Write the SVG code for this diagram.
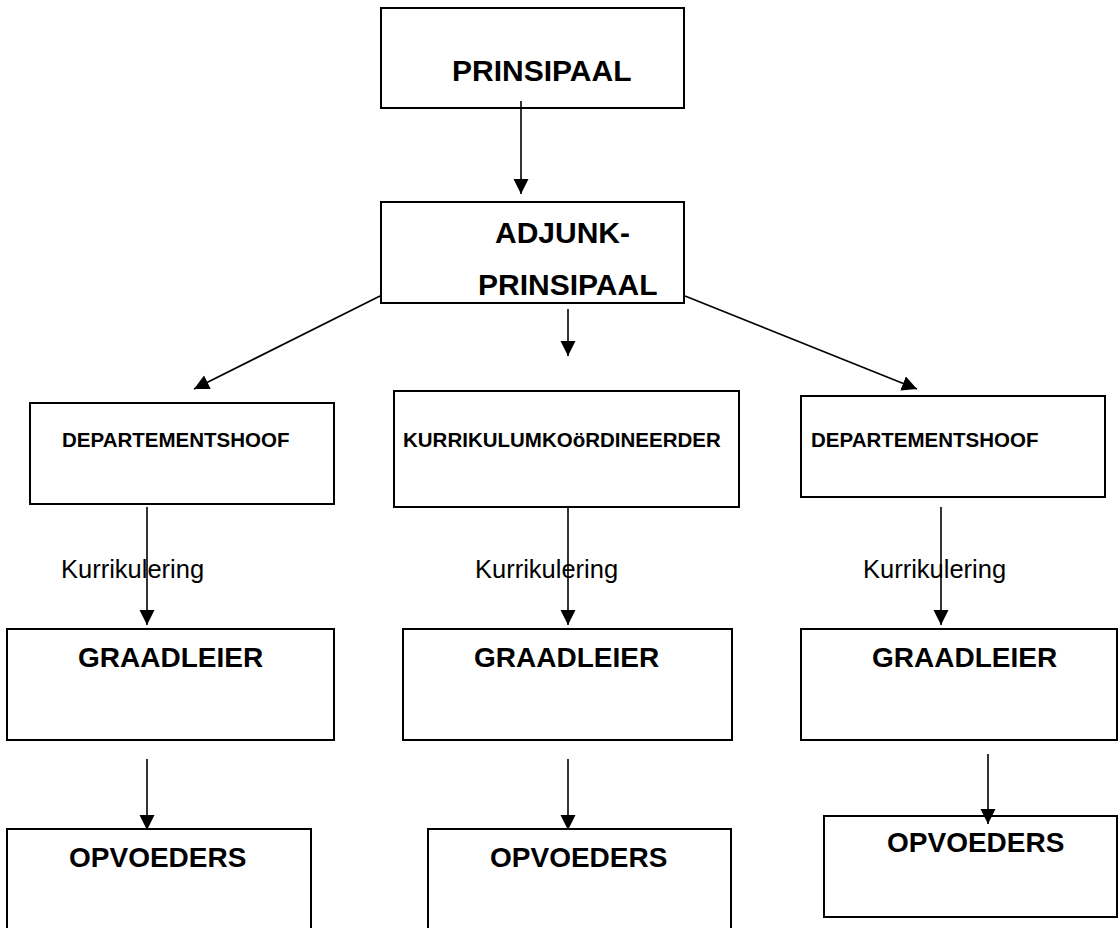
<svg xmlns="http://www.w3.org/2000/svg" width="1120" height="928" viewBox="0 0 1120 928">
<style>
.box{fill:#fff;stroke:#000;stroke-width:2}
.b30{font-family:"Liberation Sans",Arial,sans-serif;font-weight:bold;font-size:30px;fill:#000}
.b28{font-family:"Liberation Sans",Arial,sans-serif;font-weight:bold;font-size:28px;fill:#000}
.b20{font-family:"Liberation Sans",Arial,sans-serif;font-weight:bold;font-size:20.5px;fill:#000}
.lbl{font-family:"Liberation Sans",Arial,sans-serif;font-size:25.5px;fill:#000}
.conn{stroke:#000;stroke-width:1.6;fill:none;marker-end:url(#ah)}
</style>
<defs>
<marker id="ah" markerUnits="userSpaceOnUse" markerWidth="16" markerHeight="16" viewBox="0 0 16 16" refX="15" refY="7.5" orient="auto">
<path d="M0,0 L15,7.5 L0,15 z" fill="#000"/>
</marker>
</defs>
<g id="n-prinsipaal"><rect class="box" x="381" y="8" width="303" height="100"/><text class="b30" x="452" y="81">PRINSIPAAL</text></g>
<g id="n-adjunk"><rect class="box" x="381" y="202" width="303" height="101"/><text class="b30" x="495" y="243">ADJUNK-</text><text class="b30" x="478" y="295">PRINSIPAAL</text></g>
<g id="n-dept1"><rect class="box" x="30" y="403" width="304" height="101"/><text class="b20" x="62" y="447">DEPARTEMENTSHOOF</text></g>
<g id="n-kurr"><rect class="box" x="394" y="391" width="345" height="116"/><text class="b20" x="403" y="447">KURRIKULUMKOöRDINEERDER</text></g>
<g id="n-dept2"><rect class="box" x="801" y="396" width="304" height="101"/><text class="b20" x="811" y="447">DEPARTEMENTSHOOF</text></g>
<g id="n-graad1"><rect class="box" x="7" y="629" width="327" height="111"/><text class="b28" x="78" y="667">GRAADLEIER</text></g>
<g id="n-graad2"><rect class="box" x="403" y="629" width="329" height="111"/><text class="b28" x="474" y="667">GRAADLEIER</text></g>
<g id="n-graad3"><rect class="box" x="801" y="629" width="316" height="111"/><text class="b28" x="872" y="667">GRAADLEIER</text></g>
<g id="n-opv1"><rect class="box" x="7" y="829" width="304" height="110"/><text class="b28" x="69" y="867">OPVOEDERS</text></g>
<g id="n-opv2"><rect class="box" x="428" y="829" width="303" height="110"/><text class="b28" x="490" y="867">OPVOEDERS</text></g>
<g id="n-opv3"><rect class="box" x="824" y="816" width="293" height="101"/><text class="b28" x="887" y="852">OPVOEDERS</text></g>
<g id="connectors">
<line class="conn" x1="521" y1="101" x2="521" y2="194"/>
<line class="conn" x1="380" y1="296" x2="194" y2="389"/>
<line class="conn" x1="568" y1="309" x2="568" y2="356"/>
<line class="conn" x1="685" y1="296" x2="917" y2="389"/>
<line class="conn" x1="147" y1="507" x2="147" y2="625"/>
<line class="conn" x1="568" y1="507" x2="568" y2="625"/>
<line class="conn" x1="941" y1="507" x2="941" y2="625"/>
<line class="conn" x1="147" y1="759" x2="147" y2="830"/>
<line class="conn" x1="568" y1="759" x2="568" y2="830"/>
<line class="conn" x1="988" y1="754" x2="988" y2="824"/>
</g>
<text class="lbl" x="61" y="578">Kurrikulering</text>
<text class="lbl" x="475" y="578">Kurrikulering</text>
<text class="lbl" x="863" y="578">Kurrikulering</text>
</svg>
